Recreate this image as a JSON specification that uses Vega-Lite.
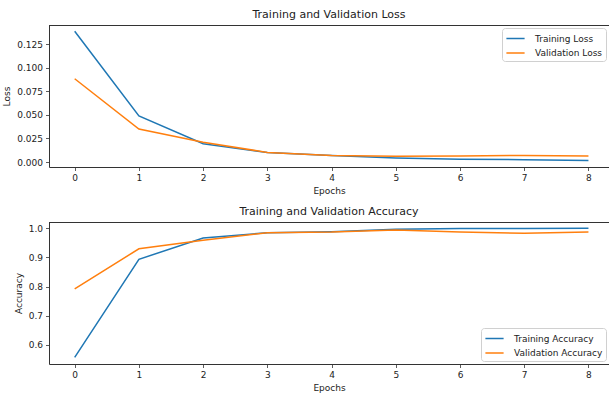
{
  "$schema": "https://vega.github.io/schema/vega-lite/v6.json",
  "padding": {"left": 2, "top": 9, "right": 0, "bottom": 0},
  "spacing": 10,
  "datasets": {
    "loss": [
      {"epoch": 0, "series": "Training Loss", "value": 0.139},
      {"epoch": 1, "series": "Training Loss", "value": 0.049},
      {"epoch": 2, "series": "Training Loss", "value": 0.0195},
      {"epoch": 3, "series": "Training Loss", "value": 0.0100},
      {"epoch": 4, "series": "Training Loss", "value": 0.0068},
      {"epoch": 5, "series": "Training Loss", "value": 0.0043},
      {"epoch": 6, "series": "Training Loss", "value": 0.0030},
      {"epoch": 7, "series": "Training Loss", "value": 0.0025},
      {"epoch": 8, "series": "Training Loss", "value": 0.0017},
      {"epoch": 0, "series": "Validation Loss", "value": 0.0885},
      {"epoch": 1, "series": "Validation Loss", "value": 0.035},
      {"epoch": 2, "series": "Validation Loss", "value": 0.0210},
      {"epoch": 3, "series": "Validation Loss", "value": 0.0102},
      {"epoch": 4, "series": "Validation Loss", "value": 0.0068},
      {"epoch": 5, "series": "Validation Loss", "value": 0.0060},
      {"epoch": 6, "series": "Validation Loss", "value": 0.0065},
      {"epoch": 7, "series": "Validation Loss", "value": 0.0070},
      {"epoch": 8, "series": "Validation Loss", "value": 0.0065}
    ],
    "acc": [
      {"epoch": 0, "series": "Training Accuracy", "value": 0.5575},
      {"epoch": 1, "series": "Training Accuracy", "value": 0.893},
      {"epoch": 2, "series": "Training Accuracy", "value": 0.966},
      {"epoch": 3, "series": "Training Accuracy", "value": 0.984},
      {"epoch": 4, "series": "Training Accuracy", "value": 0.9876},
      {"epoch": 5, "series": "Training Accuracy", "value": 0.9955},
      {"epoch": 6, "series": "Training Accuracy", "value": 0.998},
      {"epoch": 7, "series": "Training Accuracy", "value": 0.998},
      {"epoch": 8, "series": "Training Accuracy", "value": 0.999},
      {"epoch": 0, "series": "Validation Accuracy", "value": 0.792},
      {"epoch": 1, "series": "Validation Accuracy", "value": 0.929},
      {"epoch": 2, "series": "Validation Accuracy", "value": 0.958},
      {"epoch": 3, "series": "Validation Accuracy", "value": 0.984},
      {"epoch": 4, "series": "Validation Accuracy", "value": 0.986},
      {"epoch": 5, "series": "Validation Accuracy", "value": 0.993},
      {"epoch": 6, "series": "Validation Accuracy", "value": 0.986},
      {"epoch": 7, "series": "Validation Accuracy", "value": 0.982},
      {"epoch": 8, "series": "Validation Accuracy", "value": 0.986}
    ]
  },
  "vconcat": [
    {
      "width": 560,
      "height": 142,
      "title": "Training and Validation Loss",
      "data": {"name": "loss"},
      "layer": [
        {
          "mark": {"type": "line", "strokeWidth": 1.5},
          "encoding": {
            "x": {"field": "epoch", "type": "quantitative",
                  "scale": {"domain": [-0.4, 8.32], "nice": false, "zero": false},
                  "axis": {"values": [0, 1, 2, 3, 4, 5, 6, 7, 8], "format": "d", "title": "Epochs"}},
            "y": {"field": "value", "type": "quantitative",
                  "scale": {"domain": [-0.0053, 0.1456], "nice": false, "zero": false},
                  "axis": {"values": [0, 0.025, 0.05, 0.075, 0.1, 0.125], "format": ".3f", "title": "Loss"}},
            "color": {"field": "series", "type": "nominal",
                      "scale": {"domain": ["Training Loss", "Validation Loss"], "range": ["#1f77b4", "#ff7f0e"]},
                      "legend": {"orient": "top-right", "title": null}}
          }
        },
        {
          "mark": {"type": "rule", "color": "#333", "strokeWidth": 1, "yOffset": 0.5},
          "encoding": {"y": {"datum": 0.1456, "type": "quantitative",
                             "scale": {"domain": [-0.0053, 0.1456], "nice": false, "zero": false},
                             "axis": {"values": [0, 0.025, 0.05, 0.075, 0.1, 0.125], "format": ".3f", "title": "Loss"}}}
        }
      ]
    },
    {
      "width": 560,
      "height": 142,
      "title": "Training and Validation Accuracy",
      "data": {"name": "acc"},
      "layer": [
        {
          "mark": {"type": "line", "strokeWidth": 1.5},
          "encoding": {
            "x": {"field": "epoch", "type": "quantitative",
                  "scale": {"domain": [-0.4, 8.32], "nice": false, "zero": false},
                  "axis": {"values": [0, 1, 2, 3, 4, 5, 6, 7, 8], "format": "d", "title": "Epochs"}},
            "y": {"field": "value", "type": "quantitative",
                  "scale": {"domain": [0.535, 1.0206], "nice": false, "zero": false},
                  "axis": {"values": [0.6, 0.7, 0.8, 0.9, 1.0], "format": ".1f", "title": "Accuracy"}},
            "color": {"field": "series", "type": "nominal",
                      "scale": {"domain": ["Training Accuracy", "Validation Accuracy"], "range": ["#1f77b4", "#ff7f0e"]},
                      "legend": {"orient": "bottom-right", "title": null}}
          }
        },
        {
          "mark": {"type": "rule", "color": "#333", "strokeWidth": 1, "yOffset": 0.5},
          "encoding": {"y": {"datum": 1.0206, "type": "quantitative",
                             "scale": {"domain": [0.535, 1.0206], "nice": false, "zero": false},
                             "axis": {"values": [0.6, 0.7, 0.8, 0.9, 1.0], "format": ".1f", "title": "Accuracy"}}}
        }
      ]
    }
  ],
  "resolve": {"scale": {"color": "independent"}, "legend": {"color": "independent"}},
  "config": {
    "view": {"stroke": null},
    "font": "DejaVu Sans",
    "axis": {
      "grid": false,
      "domainColor": "#333",
      "domainWidth": 1,
      "tickColor": "#333",
      "tickWidth": 0.8,
      "tickSize": 3.5,
      "labelPadding": 3,
      "labelFont": "DejaVu Sans",
      "labelFontSize": 9,
      "labelColor": "#222",
      "titleFont": "DejaVu Sans",
      "titleFontSize": 9,
      "titleFontWeight": "normal",
      "titleColor": "#222",
      "titlePadding": 4
    },
    "axisY": {"titlePadding": 5},
    "title": {"font": "DejaVu Sans", "fontSize": 11, "fontWeight": "normal", "color": "#222", "offset": 5},
    "legend": {
      "labelFont": "DejaVu Sans",
      "labelFontSize": 9,
      "labelColor": "#222",
      "symbolType": "M-1.4,0H1.4",
      "symbolSize": 169,
      "symbolStrokeWidth": 1.5,
      "symbolOffset": 3,
      "labelOffset": 12,
      "rowPadding": 1.5,
      "padding": 3,
      "offset": 3,
      "strokeColor": "#d0d0d0",
      "fillColor": "#ffffff",
      "cornerRadius": 3
    }
  }
}
